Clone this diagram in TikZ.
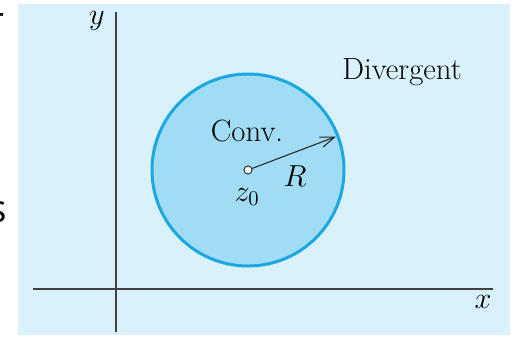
\documentclass[tikz,border=0pt]{standalone}
\usepackage{fontspec}
\newfontfamily\cutfont{Open Sans}
\usetikzlibrary{arrows.meta, calc}
\definecolor{fundo}{HTML}{D9F1FB}
\definecolor{disco}{HTML}{A0DCF4}
\definecolor{borda}{HTML}{1AA7E2}

\begin{document}
\begin{tikzpicture}[
    x=0.02cm,
    y=-0.02cm,
    every node/.style={font=\fontsize{17.5}{21}\selectfont},
    eixo/.style={
        draw=black!75,
        line width=0.8pt
    },
    raio/.style={
        draw=black!85,
        line width=0.6pt,
        -{Straight Barb[length=8pt, width=6pt]}
    },
    centro/.style={
        circle,
        draw=black!80,
        fill=white,
        line width=0.6pt,
        inner sep=0pt,
        minimum size=4.6pt
    }
]

\useasboundingbox (0,0) rectangle (516,338);

% ============================================================
% FUNDO
% ============================================================

\fill[fundo] (18,4) rectangle (510,335);

% restos de texto cortados na margem
\node[
    anchor=base east,
    inner sep=0pt,
    font=\cutfont\fontsize{22}{26}\selectfont
] (restoA) at (5,34) {r};

\node[
    anchor=base east,
    inner sep=0pt,
    font=\cutfont\fontsize{22}{26}\selectfont
] (restoB) at (7,222) {s};

% ============================================================
% DISCO DE CONVERGENCIA
% ============================================================

\filldraw[
    fill=disco,
    draw=borda,
    line width=1.7pt
] (248,170) circle (96);

% ============================================================
% EIXOS
% ============================================================

\coordinate (xini) at (33,289);
\coordinate (xfim) at (493,289);
\coordinate (yini) at (116,332);
\coordinate (yfim) at (116,12);

\draw[eixo] (xini) -- (xfim);
\draw[eixo] (yini) -- (yfim);

\node (ylab) at (97,21) {$y$};
\node (xlab) at (483,302) {$x$};

% ============================================================
% CENTRO E RAIO
% ============================================================

\node[centro] (z0) at (248,170) {};
\coordinate (rim) at ($(z0)+(-20.8:94)$);

\draw[raio] (z0) -- (rim);

\node (zlab) at (247,197) {$z_0$};
\node (rlab) at (295,176) {$R$};

% ============================================================
% TEXTOS
% ============================================================

\node (conv) at (247,131) {Conv.};
\node (div) at (402,72) {Divergent};

\end{tikzpicture}
\end{document}
